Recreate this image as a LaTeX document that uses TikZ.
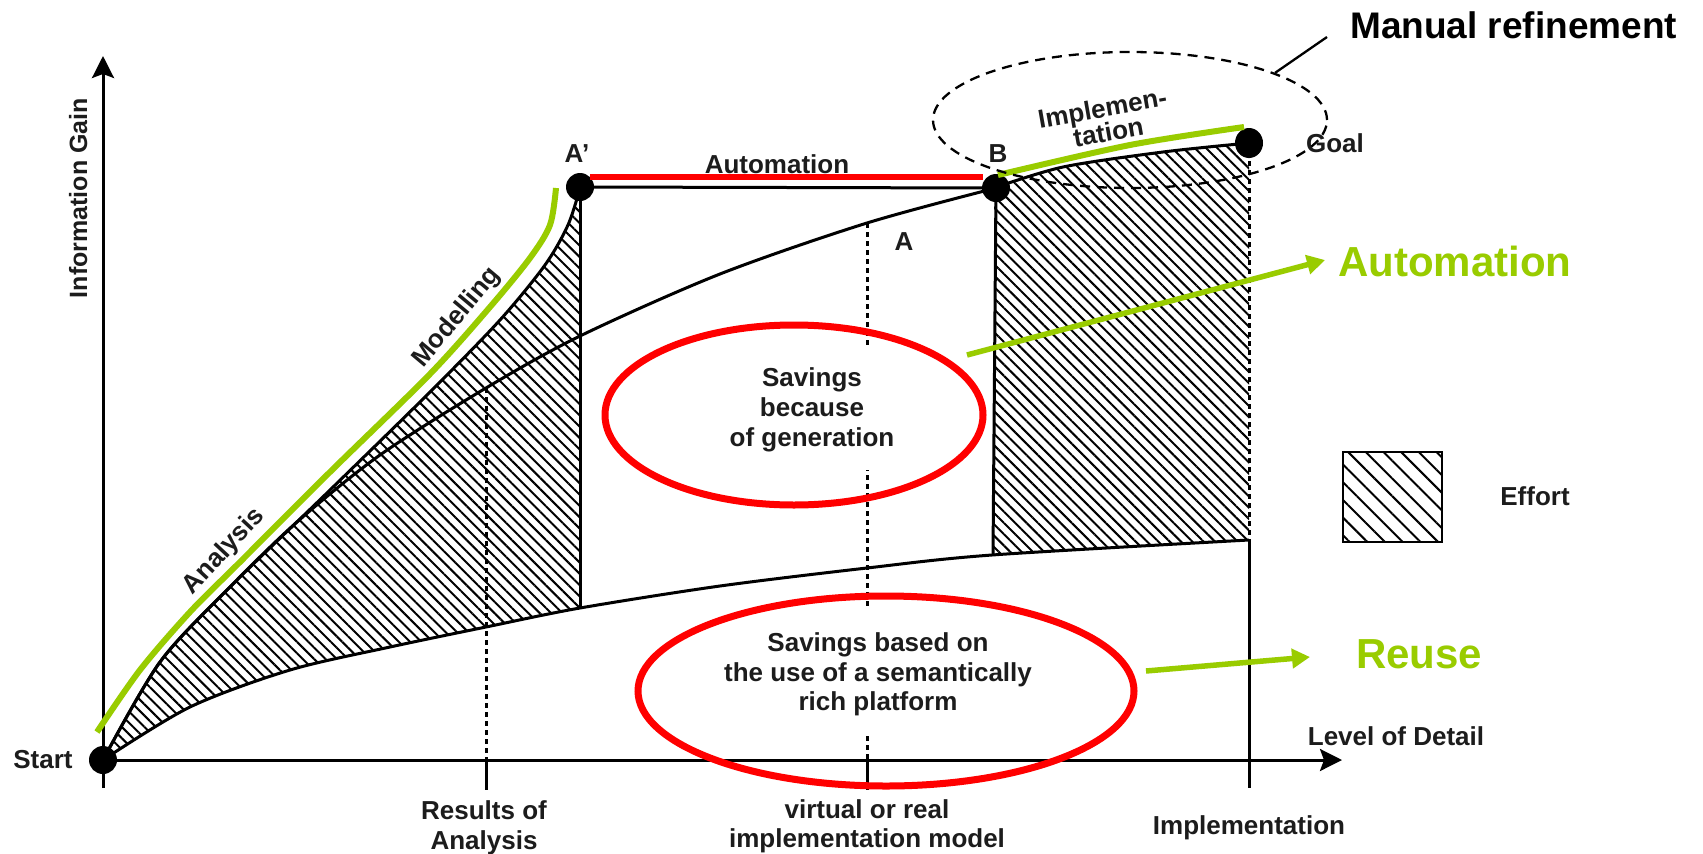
\documentclass[tikz,border=0pt]{standalone}
\usepackage{fontspec}
\setmainfont{Liberation Sans}
\usetikzlibrary{arrows.meta,patterns.meta,shapes.geometric}
\definecolor{lgreen}{RGB}{153,204,0}
\definecolor{txt}{RGB}{28,28,28}
\begin{document}
\begin{tikzpicture}[x=1pt,y=-1pt,
  lbl/.style={font=\bfseries\fontsize{26}{30}\selectfont, text=txt, inner sep=0pt, anchor=base},
  biggreen/.style={font=\bfseries\fontsize{42}{48}\selectfont, text=lgreen, inner sep=0pt, anchor=base west},
  axisline/.style={line width=3pt, -{Stealth[length=22pt,width=22pt,inset=4pt]}},
  curveline/.style={line width=3pt, line join=round},
  dotline/.style={line width=3pt, dash pattern=on 5pt off 4pt},
  tickline/.style={line width=3pt},
  bigdot/.style={circle, fill=black, minimum size=28pt, inner sep=0pt},
  gline/.style={line width=6pt, draw=lgreen},
  garrow/.style={line width=5.5pt, draw=lgreen, -{Triangle[length=18pt,width=19pt]}},
  redell/.style={ellipse, draw=red, line width=7pt, inner sep=0pt},
  hatch/.style={pattern={Lines[angle=-45,distance=8pt,line width=2pt]}},
  legendhatch/.style={pattern={Lines[angle=-45,distance=12.5pt,line width=2pt]}},
]
\fill[white] (0,0) rectangle (1703,854);
\useasboundingbox (0,0) rectangle (1703,854);

% hatched regions
\begin{scope}
  \clip plot[smooth] coordinates {(103,760) (190,707) (290,670) (390,647) (486,627) (580,608) (720,586) (867,568) (992,555) (1249,540)} -- (1249,0) -- (103,0) -- cycle;
  \fill[hatch] plot[smooth] coordinates {(103,760) (160,662) (230,587) (330,490) (430,392) (500,320) (545,265) (568,225) (580,188)} -- (580,800) -- (103,800) -- cycle;
  \fill[hatch] plot[smooth] coordinates {(994,188) (1063,167) (1163,152) (1249,143)} -- (1249,800) -- (994,800) -- cycle;
\end{scope}

% coordinates
\coordinate (yb) at (103,788);
\coordinate (ytip) at (103,56);
\coordinate (xo) at (103,760);
\coordinate (xtip) at (1342,760);
\coordinate (r1top) at (486,388);
\coordinate (r1ax) at (486,760);
\coordinate (r1b) at (486,790);
\coordinate (r2top) at (867,223);
\coordinate (r2ax) at (867,760);
\coordinate (r2b) at (867,790);
\coordinate (r3mid) at (1249,540);
\coordinate (r3ax) at (1249,760);
\coordinate (r3b) at (1249,788);
\coordinate (apb) at (580,608);
\coordinate (bb) at (993,555);

% dotted guide lines
\draw[dotline] (r1top) -- (r1ax);
\draw[dotline] (r2top) -- (r2ax);
\draw[dotline] (1249,143) -- (r3ax);

% white text backgrounds
\fill[white] (653,347) rectangle (930,470);
\fill[white] (629,610) rectangle (1089,733);

% curves
\draw[curveline] plot[smooth] coordinates {(103,760) (190,707) (290,670) (390,647) (486,627) (580,608) (720,586) (867,568) (992,555) (1249,540)};
\draw[curveline] plot[smooth] coordinates {(103,760) (160,662) (230,587) (330,490) (430,392) (500,320) (545,265) (568,225) (580,188)};
\draw[curveline] plot[smooth] coordinates {(103,760) (160,662) (230,587) (297,522) (380,455) (486,388) (580,336) (720,274) (867,223) (996,188)};
\draw[curveline] plot[smooth] coordinates {(994,188) (1063,167) (1163,152) (1249,143)};

% dots
\node[bigdot] (start) at (103,760) {};
\node[bigdot] (ap) at (580,187) {};
\node[bigdot] (b) at (996,188) {};
\node[bigdot, minimum width=28pt, minimum height=30pt, ellipse] (goal) at (1249,143) {};

% verticals and horizontal
\draw[curveline] (ap.center) -- (apb);
\draw[curveline] (b.center) -- (bb);
\draw[curveline] (ap.center) -- (b.center);
\draw[tickline] (r3mid) -- (r3b);

% axes and ticks
\draw[axisline] (yb) -- (ytip);
\draw[axisline] (xo) -- (xtip);
\draw[tickline] (r1ax) -- (r1b);
\draw[tickline] (r2ax) -- (r2b);

% green highlight lines
\draw[gline] plot[smooth] coordinates {(97,732) (140,670) (190,612) (240,562) (330,472) (430,374) (490,307) (530,258) (550,225) (556,188)};
\draw[gline] plot[smooth] coordinates {(998,175) (1130,145) (1244,127)};

% red automation line
\draw[line width=6pt, red] (590,177) -- (983,177);

% red ellipses
\node[redell, minimum width=378pt, minimum height=180pt] (e1) at (794,415) {};
\node[redell, minimum width=496pt, minimum height=190pt] (e2) at (886,691) {};

% dashed ellipse
\node[ellipse, draw, line width=2.3pt, dash pattern=on 10pt off 7pt, minimum width=394pt, minimum height=136pt, inner sep=0pt] (mr) at (1130,120) {};
\coordinate (mrtip) at (1327,37);
\draw[line width=2.3pt] (mr.18) -- (mrtip);

% green arrows
\coordinate (a1s) at (967,355);
\coordinate (a1e) at (1325,260);
\coordinate (a2s) at (1146,671);
\coordinate (a2e) at (1310,657);
\draw[garrow] (a1s) -- (a1e);
\draw[garrow] (a2s) -- (a2e);

% legend
\draw[legendhatch, line width=2.7pt] (1343,452) rectangle (1442,542);

% labels
\node[lbl] (tstart) at (43,768) {Start};
\node[lbl, rotate=90, font=\bfseries\fontsize{25}{30}\selectfont] (tinfo) at (87,198) {Information Gain};
\node[lbl] (tres1) at (484,819) {Results of};
\node[lbl] (tres2) at (484,849) {Analysis};
\node[lbl] (tvir1) at (867,818) {virtual or real};
\node[lbl] (tvir2) at (867,847) {implementation model};
\node[lbl] (timpl) at (1249,834) {Implementation};
\node[lbl] (tlod) at (1396,745) {Level of Detail};
\node[lbl] (tap) at (577,162) {A'};
\node[lbl] (tb) at (998,162) {B};
\node[lbl] (ta) at (904,250) {A};
\node[lbl] (tgoal) at (1335,152) {Goal};
\node[lbl] (tauto) at (777,173) {Automation};
\node[lbl] (ts1) at (812,386) {Savings};
\node[lbl] (ts2) at (812,416) {because};
\node[lbl] (ts3) at (812,446) {of generation};
\node[lbl] (tr1) at (878,651) {Savings based on};
\node[lbl] (tr2) at (878,681) {the use of a semantically};
\node[lbl] (tr3) at (878,710) {rich platform};
\node[lbl] (teff) at (1535,505) {Effort};
\node[lbl, rotate=47] (tana) at (229,556) {Analysis};
\node[lbl, rotate=50] (tmod) at (462,322) {Modelling};
\node[lbl, rotate=10] (timp1) at (1104,117) {Implemen-};
\node[lbl, rotate=10] (timp2) at (1110,141) {tation};
\node[inner sep=0pt, anchor=base west, font=\bfseries\fontsize{37}{44}\selectfont] (tmr) at (1350,38) {Manual refinement};
\node[biggreen] (tga) at (1338,276) {Automation};
\node[biggreen] (tgr) at (1356,668) {Reuse};
\end{tikzpicture}
\end{document}
